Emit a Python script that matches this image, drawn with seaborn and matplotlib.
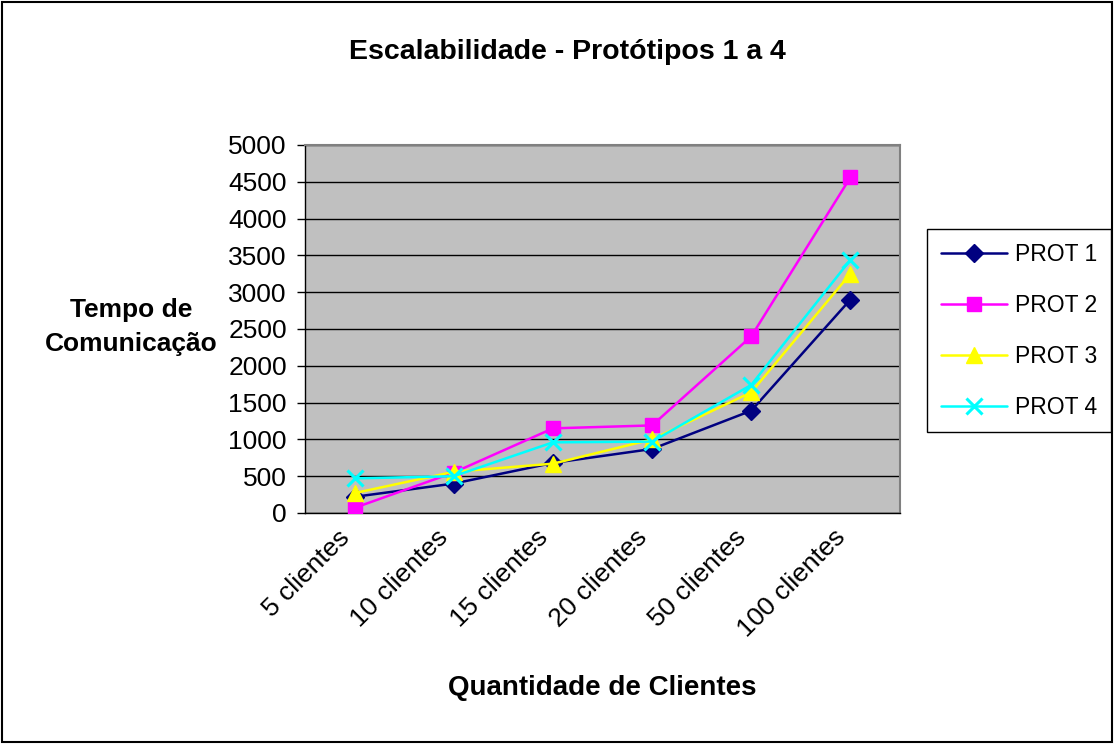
import numpy as np
import pandas as pd
import matplotlib
matplotlib.use('Agg')
import matplotlib.pyplot as plt
import matplotlib.transforms as mtransforms
from matplotlib.patches import Rectangle
import seaborn as sns

# ---- data ----
categories = ['5 clientes', '10 clientes', '15 clientes', '20 clientes', '50 clientes', '100 clientes']
series_names = ['PROT 1', 'PROT 2', 'PROT 3', 'PROT 4']
prot1 = [220, 400, 680, 870, 1390, 2900]
prot2 = [70, 550, 1150, 1190, 2400, 4560]
prot3 = [270, 560, 670, 1000, 1640, 3250]
prot4 = [470, 500, 960, 970, 1740, 3440]
y_ticks = list(range(0, 5001, 500))

title = 'Escalabilidade - Protótipos 1 a 4'
x_label = 'Quantidade de Clientes'
y_label = 'Tempo de\nComunicação'

sns.set_theme(style='white')
plt.rcParams['font.family'] = ['Liberation Sans', 'DejaVu Sans']
plt.rcParams['text.color'] = 'black'
plt.rcParams['axes.labelcolor'] = 'black'
plt.rcParams['xtick.color'] = 'black'
plt.rcParams['ytick.color'] = 'black'

W, H = 1114, 744
fig = plt.figure(figsize=(W / 100, H / 100), dpi=100)
fig.patch.set_facecolor('white')
ax = fig.add_axes([305 / W, 1 - 513 / H, 595 / W, 368 / H])
ax.set_facecolor('#C0C0C0')

pos = np.arange(len(categories))
df = pd.DataFrame({'pos': np.tile(pos, 4),
                   'value': prot1 + prot2 + prot3 + prot4,
                   'series': np.repeat(series_names, len(categories))})

styles = {
    'PROT 1': dict(color='#000080', marker='D', markersize=9, mew=1),
    'PROT 2': dict(color='#FF00FF', marker='s', markersize=10, mew=1),
    'PROT 3': dict(color='#FFFF00', marker='^', markersize=12, mew=1),
    'PROT 4': dict(color='#00FFFF', marker='x', markersize=12, mew=2.2),
}

for name in series_names:
    st = styles[name]
    sub = df[df['series'] == name]
    sns.lineplot(data=sub, x='pos', y='value', ax=ax, color=st['color'],
                 marker=st['marker'], markersize=st['markersize'],
                 markeredgecolor=st['color'], markerfacecolor=st['color'],
                 markeredgewidth=st['mew'], linewidth=1.8, label=name,
                 zorder=3)

if ax.get_legend() is not None:
    ax.get_legend().remove()

ax.set_xlim(-0.5, len(categories) - 0.5)
ax.set_ylim(0, 5000)
ax.set_yticks(y_ticks)
ax.set_yticklabels([str(v) for v in y_ticks], fontsize=19, color='black')
ax.yaxis.grid(True, color='black', linewidth=1)
ax.xaxis.grid(False)
ax.set_axisbelow(True)
ax.set_xlabel('')
ax.set_ylabel('')

ax.set_xticks(pos)
ax.set_xticklabels(categories, fontsize=19, rotation=45, ha='right',
                   rotation_mode='anchor', va='center', color='black')
ax.set_xticks(np.arange(-0.5, len(categories), 1.0), minor=True)
ax.tick_params(axis='x', which='major', length=0, pad=15)
ax.tick_params(axis='x', which='minor', length=6, width=1, color='black', direction='out')
ax.tick_params(axis='y', length=6, width=1, color='black', direction='out', left=True, pad=7)
offset = mtransforms.ScaledTranslation(-9 / 100, 0, fig.dpi_scale_trans)
for lbl in ax.get_xticklabels():
    lbl.set_transform(lbl.get_transform() + offset)

for side in ['top', 'right']:
    ax.spines[side].set_color('#808080')
    ax.spines[side].set_linewidth(1.5)
for side in ['left', 'bottom']:
    ax.spines[side].set_color('black')
    ax.spines[side].set_linewidth(1)

fig.text(567 / W, 1 - 52 / H, title, ha='center', va='center', fontsize=20.5, fontweight='bold')
fig.text(602 / W, 1 - 688 / H, x_label, ha='center', va='center', fontsize=20, fontweight='bold')
fig.text(131 / W, 1 - 327 / H, y_label, ha='center', va='center', fontsize=19,
         fontweight='bold', multialignment='center', linespacing=1.5)

handles = [l for l in ax.get_lines() if l.get_label() in series_names]
labels = [l.get_label() for l in handles]
leg = fig.legend(handles, labels, loc='upper left', bbox_to_anchor=(927 / W, 1 - 229 / H),
                 bbox_transform=fig.transFigure, frameon=True, fancybox=False,
                 edgecolor='black', framealpha=1, fontsize=16.5, handlelength=2.9,
                 handletextpad=0.35, labelspacing=1.22, borderpad=0.6, borderaxespad=0)
leg.get_frame().set_linewidth(1)

fig.patches.append(Rectangle((2 / W, 2 / H), 1 - 4 / W, 1 - 4 / H, transform=fig.transFigure,
                             fill=False, edgecolor='black', linewidth=1.5))

fig.savefig('out.png', dpi=100)
